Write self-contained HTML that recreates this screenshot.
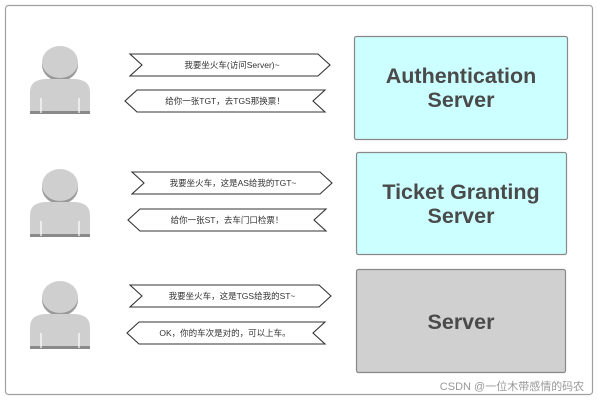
<!DOCTYPE html>
<html><head><meta charset="utf-8"><style>
html,body{margin:0;padding:0;background:#fff;}
svg{display:block;}
text{font-family:"Liberation Sans","Noto Sans CJK SC",sans-serif;}
</style></head><body>
<svg width="598" height="402" viewBox="0 0 598 402" xmlns="http://www.w3.org/2000/svg">
<rect x="5.5" y="5.5" width="587" height="389" rx="3" fill="#fff" stroke="#a0a0a0" stroke-width="1.2"/>
<defs>
<g id="person">
<ellipse cx="0" cy="3" rx="18" ry="16" fill="#9a9a9a"/>
<ellipse cx="0" cy="0" rx="18" ry="16" fill="#cfcfcf"/>
<path d="M-30,51 L-30,30 Q-30,18 -15,17 L15,17 Q30,18 30,30 L30,51 Z" fill="#cfcfcf"/>
<rect x="-30" y="49" width="60" height="3" fill="#8a8a8a"/>
<line x1="-19" y1="36" x2="-19" y2="51" stroke="#fff" stroke-width="1.2"/>
<line x1="19" y1="36" x2="19" y2="51" stroke="#fff" stroke-width="1.2"/>
</g>
</defs>
<use href="#person" x="60" y="62"/>
<use href="#person" x="60" y="185"/>
<use href="#person" x="60" y="297"/>
<g fill="#fff" stroke="#333" stroke-width="1.1">
<polygon points="130,54 318,54 330,65 318,76 130,76 142,65"/>
<polygon points="137,90 325,90 313,101 325,112 137,112 125,101"/>
<polygon points="132,172 320,172 332,183 320,194 132,194 144,183"/>
<polygon points="140,209 326,209 314,220 326,231 140,231 128,220"/>
<polygon points="130,285 319,285 331,296 319,307 130,307 142,296"/>
<polygon points="139,322 325,322 313,333 325,344 139,344 127,333"/>
</g>
<g font-size="8.5" fill="#333" text-anchor="middle">
<text x="232" y="68">我要坐火车(访问Server)~</text>
<text x="225" y="104">给你一张TGT，去TGS那换票！</text>
<text x="233" y="186">我要坐火车，这是AS给我的TGT~</text>
<text x="227" y="223">给你一张ST，去车门口检票！</text>
<text x="232" y="299">我要坐火车，这是TGS给我的ST~</text>
<text x="225" y="336">OK，你的车次是对的，可以上车。</text>
</g>
<rect x="354.5" y="36.5" width="213" height="103" rx="2" fill="#ccffff" stroke="#888" stroke-width="1.2"/>
<rect x="356.5" y="152.5" width="210" height="102" rx="2" fill="#ccffff" stroke="#888" stroke-width="1.2"/>
<rect x="356.5" y="269.5" width="209" height="103" rx="2" fill="#d0d0d0" stroke="#888" stroke-width="1.2"/>
<g font-size="21.5" font-weight="bold" fill="#4a4a4a" text-anchor="middle">
<text x="461" y="83">Authentication</text>
<text x="461" y="107">Server</text>
<text x="461" y="199">Ticket Granting</text>
<text x="461" y="223">Server</text>
<text x="461" y="329">Server</text>
</g>
<text x="512" y="390" font-size="11" fill="#999" text-anchor="middle">CSDN @一位木带感情的码农</text>
</svg>
</body></html>
